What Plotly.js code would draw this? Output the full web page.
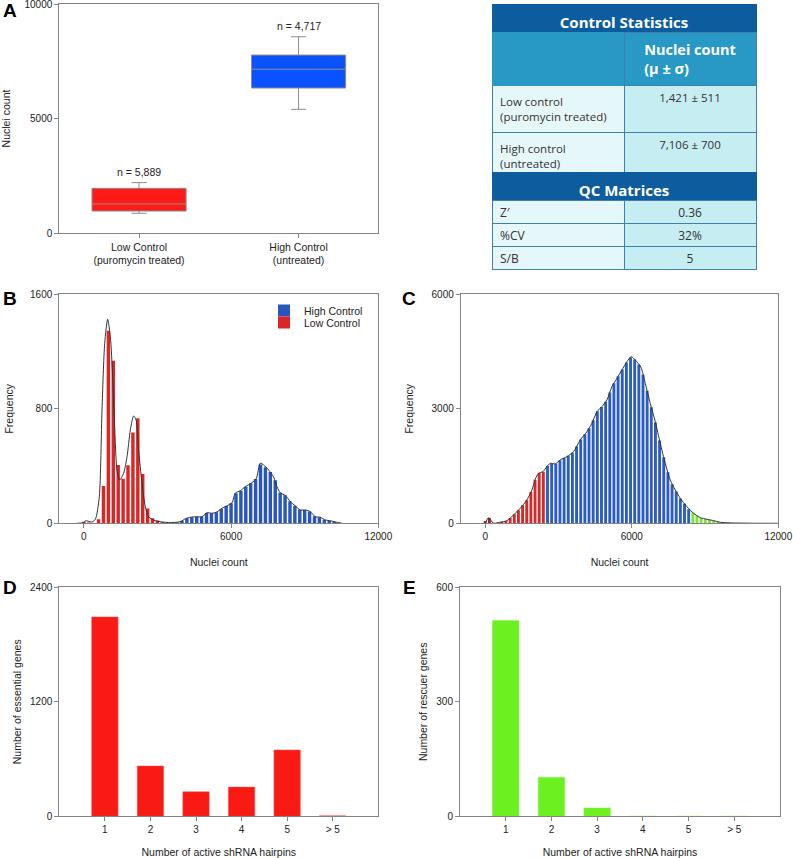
<!DOCTYPE html>
<html><head><meta charset="utf-8">
<script src="https://cdn.plot.ly/plotly-3.0.1.min.js"></script>
<style>html,body{margin:0;padding:0;background:#fff}#chart{width:793px;height:858px}</style>
</head><body><div id="chart"></div>
<script>
// ---------- Panel A : box plot ----------
const boxCategories = ['Low Control<br>(puromycin treated)', 'High Control<br>(untreated)'];
const boxLowerFence = [860, 5400];
const boxQ1 = [960, 6330];
const boxMedian = [1270, 7150];
const boxQ3 = [1950, 7770];
const boxUpperFence = [2200, 8570];
const boxN = ['n = 5,889', 'n = 4,717'];

// ---------- Table ----------
const tableTitle1 = 'Control Statistics';
const tableHeader = ['', 'Nuclei count<br>(μ ± σ)'];
const controlNames = ['Low control<br>(puromycin treated)', 'High control<br>(untreated)'];
const controlStats = ['1,421 ± 511', '7,106 ± 700'];
const tableTitle2 = 'QC Matrices';
const qcNames = ['Z′', '%CV', 'S/B'];
const qcValues = ['0.36', '32%', '5'];

// ---------- Panel B : control histograms ----------
const lowBins = [0, 200, 400, 600, 800, 1000, 1200, 1400, 1600, 1800, 2000, 2200, 2400, 2600, 2800, 3000, 3200];
const lowFreq = [10, 5, 0, 28, 260, 1345, 1135, 407, 312, 405, 634, 734, 345, 103, 35, 20, 8];
const highBins = [3600, 3800, 4000, 4200, 4400, 4600, 4800, 5000, 5200, 5400, 5600, 5800, 6000, 6200, 6400, 6600, 6800, 7000, 7200, 7400, 7600, 7800, 8000, 8200, 8400, 8600, 8800, 9000, 9200, 9400, 9600, 9800, 10000, 10200, 10400];
const highFreq = [3, 6, 18, 35, 43, 46, 46, 72, 70, 78, 100, 120, 140, 210, 228, 256, 280, 310, 410, 392, 358, 300, 214, 196, 154, 122, 94, 93, 82, 50, 43, 25, 18, 10, 4];
const curveBx = [-300, 0, 60, 330, 470, 630, 740, 850, 970, 1080, 1175, 1255, 1350, 1460, 1620, 1760, 1895, 2030, 2130, 2230, 2370, 2505, 2640, 2910, 3460, 3930, 4140, 4340, 4610, 4820, 5020, 5220, 5430, 5630, 5840, 6040, 6170, 6380, 6580, 6850, 7030, 7190, 7330, 7530, 7740, 7870, 8010, 8210, 8415, 8620, 8820, 9030, 9230, 9430, 9640, 9840, 10045, 10250, 10520];
const curveBy = [0, 5, 18, 9, 28, 186, 792, 1258, 1425, 1304, 1024, 675, 372, 302, 349, 465, 652, 750, 722, 512, 279, 116, 46, 18, 5, 11, 32, 42, 46, 46, 74, 70, 80, 105, 123, 144, 210, 228, 256, 284, 314, 420, 407, 372, 321, 256, 212, 195, 151, 121, 93, 93, 81, 46, 42, 23, 18, 9, 0];

// ---------- Panel C : screen histogram ----------
const cDarkBins = [0, 170, 340];
const cDarkFreq = [60, 140, 12];
const cRedBins = [510, 680, 850, 1020, 1190, 1360, 1530, 1700, 1870, 2040, 2210, 2380];
const cRedFreq = [15, 35, 60, 140, 235, 345, 470, 605, 820, 1140, 1320, 1350];
const cBlueBins = [2550, 2720, 2890, 3060, 3230, 3400, 3570, 3740, 3910, 4080, 4250, 4420, 4590, 4760, 4930, 5100, 5270, 5440, 5610, 5780, 5950, 6120, 6290, 6460, 6630, 6800, 6970, 7140, 7310, 7480, 7650, 7820, 7990, 8160, 8330];
const cBlueFreq = [1500, 1570, 1560, 1655, 1710, 1770, 1850, 2010, 2195, 2330, 2490, 2700, 2935, 3045, 3185, 3430, 3670, 3850, 4030, 4210, 4345, 4290, 4160, 3890, 3470, 3040, 2640, 2170, 1730, 1340, 1020, 830, 650, 510, 370];
const cGreenBins = [8500, 8670, 8840, 9010, 9180, 9350, 9520, 9690, 9860, 10030, 10200];
const cGreenFreq = [280, 200, 142, 115, 92, 70, 42, 24, 15, 10, 6];
const curveCx = [0, 135, 340, 614, 887, 1160, 1433, 1706, 1911, 2048, 2183, 2363, 2527, 2662, 2867, 3071, 3344, 3617, 3890, 4164, 4369, 4573, 4778, 4983, 5187, 5392, 5597, 5802, 5978, 6142, 6376, 6552, 6757, 6962, 7166, 7371, 7576, 7781, 7985, 8259, 8532, 8805, 9078, 9351, 9624, 10170, 11000, 12000];
const curveCy = [0, 147, 0, 30, 70, 218, 393, 611, 873, 1152, 1310, 1354, 1485, 1572, 1555, 1660, 1747, 1878, 2183, 2401, 2620, 2925, 3056, 3231, 3580, 3798, 4016, 4234, 4365, 4278, 4087, 3667, 3144, 2663, 2096, 1572, 1135, 873, 655, 436, 262, 148, 105, 70, 26, 9, 2, 0];

// ---------- Panels D, E ----------
const hairpinCats = ['1', '2', '3', '4', '5', '> 5'];
const essentialGenes = [2090, 527, 258, 307, 695, 5];
const rescuerGenes = [513, 102, 22, 0, 0, 0];

// ---------- styles ----------
const FONT = 'Liberation Sans, Arial, sans-serif';
const TFONT = 'Open Sans, Noto Sans, sans-serif';
const darkBlue = '#0d5c9e', midBlue = '#2898c4', cellL = '#e6f7fa', cellR = '#c6edf2', tLine = '#3f7fae';
const W = 793, H = 858;
const px = v => v / W, py = v => 1 - v / H;

const axBase = {showline: true, mirror: true, linecolor: '#858585', linewidth: 1, ticks: 'outside', ticklen: 4,
  tickcolor: '#858585', showgrid: false, zeroline: false, ticklabeloverflow: 'allow',
  tickfont: {size: 10, color: '#222', family: FONT}, fixedrange: true};
const ttl = (t, s) => ({text: t, font: {size: 10.5, color: '#222', family: FONT}, standoff: s});

const data = [];
// A boxes
const boxColors = ['#ff1a1a', '#0a52ff'];
for (let i = 0; i < 2; i++) {
  data.push({type: 'box', x: [boxCategories[i]], q1: [boxQ1[i]], median: [boxMedian[i]], q3: [boxQ3[i]],
    lowerfence: [boxLowerFence[i]], upperfence: [boxUpperFence[i]], fillcolor: boxColors[i],
    line: {color: '#8c8c8c', width: 1}, width: 0.59, whiskerwidth: 0.16, xaxis: 'x', yaxis: 'y',
    showlegend: false, hoverinfo: 'skip'});
}
// B
data.push({type: 'bar', x: highBins, y: highFreq, width: 140, marker: {color: '#2856be', line: {width: 0}}, name: 'High Control', legend: 'legend', xaxis: 'x2', yaxis: 'y2'});
data.push({type: 'bar', x: lowBins, y: lowFreq, width: 140, marker: {color: '#dc2626', line: {width: 0}}, name: 'Low Control', legend: 'legend2', xaxis: 'x2', yaxis: 'y2'});
data.push({type: 'scatter', mode: 'lines', x: curveBx, y: curveBy, line: {color: '#333', width: 1, shape: 'spline', smoothing: 0.7}, showlegend: false, xaxis: 'x2', yaxis: 'y2', hoverinfo: 'skip'});
// C
const cSeries = [[cDarkBins, cDarkFreq, '#a82424'], [cRedBins, cRedFreq, '#d42a2a'], [cBlueBins, cBlueFreq, '#2a5cc4'], [cGreenBins, cGreenFreq, '#7ee23c']];
cSeries.forEach(s => data.push({type: 'bar', x: s[0], y: s[1], width: 118, marker: {color: s[2], line: {width: 0}}, showlegend: false, xaxis: 'x3', yaxis: 'y3'}));
data.push({type: 'scatter', mode: 'lines', x: curveCx, y: curveCy, line: {color: '#333', width: 1, shape: 'spline', smoothing: 0.7}, showlegend: false, xaxis: 'x3', yaxis: 'y3', hoverinfo: 'skip'});
// D, E
data.push({type: 'bar', x: hairpinCats, y: essentialGenes, width: 0.58, marker: {color: '#fa1a14', line: {color: '#f06060', width: 0.5}}, showlegend: false, xaxis: 'x4', yaxis: 'y4'});
data.push({type: 'bar', x: hairpinCats, y: rescuerGenes, width: 0.58, marker: {color: '#6cf020', line: {color: '#90f060', width: 0.5}}, showlegend: false, xaxis: 'x5', yaxis: 'y5'});

// Tables
const tx = [px(492), px(756)];
const titleFont = {family: TFONT, size: 15, color: '#fff'};
const bodyFont = {family: TFONT, size: 12, color: '#333'};
const bodyFont2 = {family: TFONT, size: 11.5, color: '#333'};
data.push({type: 'table', domain: {x: tx, y: [py(60), py(4)]}, columnwidth: [1],
  header: {values: ['<b>' + tableTitle1 + '</b>'], height: 28, align: 'center', fill: {color: darkBlue}, line: {color: darkBlue, width: 1}, font: titleFont},
  cells: {values: [['']], height: 20, fill: {color: midBlue}, line: {color: midBlue, width: 1}, font: bodyFont}});
data.push({type: 'table', domain: {x: tx, y: [py(180), py(32)]}, columnwidth: [1, 1],
  header: {values: [tableHeader[0], '<b>' + tableHeader[1].replace('<br>', '</b><br><b>') + '</b>'], height: 46, align: ['left', 'center'],
    fill: {color: midBlue}, line: {color: [midBlue, tLine], width: 1}, font: {family: TFONT, size: 14.5, color: '#fff'}},
  cells: {values: [controlNames, controlStats], height: 47, align: ['left', 'center'], fill: {color: [cellL, cellR]},
    line: {color: tLine, width: 1}, font: bodyFont2}});
data.push({type: 'table', domain: {x: tx, y: [py(226), py(172)]}, columnwidth: [1],
  header: {values: ['<b>' + tableTitle2 + '</b>'], height: 28, align: 'center', fill: {color: darkBlue}, line: {color: darkBlue, width: 1}, font: titleFont},
  cells: {values: [['']], height: 20, fill: {color: cellL}, line: {color: cellL, width: 1}, font: bodyFont}});
data.push({type: 'table', domain: {x: tx, y: [py(276), py(200)]}, columnwidth: [1, 1],
  header: {values: [qcNames[0], qcValues[0]], height: 23, align: ['left', 'center'], fill: {color: [cellL, cellR]},
    line: {color: tLine, width: 1}, font: bodyFont},
  cells: {values: [qcNames.slice(1), qcValues.slice(1)], height: 23, align: ['left', 'center'], fill: {color: [cellL, cellR]},
    line: {color: tLine, width: 1}, font: bodyFont}});

const letter = (t, x, y) => ({text: '<b>' + t + '</b>', xref: 'paper', yref: 'paper', x: px(x), y: py(y), xanchor: 'center', yanchor: 'middle', showarrow: false, font: {size: 19, color: '#000', family: FONT}});
const legStyle = (y) => ({x: px(264), y: py(y), xanchor: 'left', yanchor: 'top', bgcolor: 'rgba(0,0,0,0)', borderwidth: 0, font: {size: 10.5, family: FONT, color: '#222'}});

const layout = {
  width: W, height: H, margin: {l: 0, r: 0, t: 0, b: 0}, paper_bgcolor: '#fff', plot_bgcolor: '#fff',
  font: {family: FONT, color: '#222'}, boxmode: 'overlay', barmode: 'overlay', hovermode: false,
  showlegend: true,
  legend: legStyle(296), legend2: legStyle(308),
  xaxis: {...axBase, domain: [px(59.3), px(378.3)], anchor: 'y', type: 'category', range: [-0.5, 1.5], tickfont: {size: 10.5, color: '#222', family: FONT}},
  yaxis: {...axBase, domain: [py(233), py(4)], anchor: 'x', range: [0, 10000], tickvals: [0, 5000, 10000], tickformat: 'd', title: ttl('Nuclei count', 18)},
  xaxis2: {...axBase, domain: [px(59.3), px(378.3)], anchor: 'y2', range: [-1000, 12000], tickvals: [0, 6000, 12000], tickformat: 'd', title: ttl('Nuclei count', 17)},
  yaxis2: {...axBase, domain: [py(523.3), py(294.3)], anchor: 'x2', range: [0, 1600], tickvals: [0, 800, 1600], tickformat: 'd', title: ttl('Frequency', 14)},
  xaxis3: {...axBase, domain: [px(460.8), px(778.3)], anchor: 'y3', range: [-1000, 12000], tickvals: [0, 6000, 12000], tickformat: 'd', title: ttl('Nuclei count', 17)},
  yaxis3: {...axBase, domain: [py(523.3), py(294.3)], anchor: 'x3', range: [0, 6000], tickvals: [0, 3000, 6000], tickformat: 'd', title: ttl('Frequency', 15)},
  xaxis4: {...axBase, domain: [px(59.3), px(378.3)], anchor: 'y4', type: 'category', range: [-1, 6], title: ttl('Number of active shRNA hairpins', 15)},
  yaxis4: {...axBase, domain: [py(816.3), py(587.3)], anchor: 'x4', range: [0, 2400], tickvals: [0, 1200, 2400], tickformat: 'd', title: ttl('Number of essential genes', 6)},
  xaxis5: {...axBase, domain: [px(460), px(780)], anchor: 'y5', type: 'category', range: [-1, 6], title: ttl('Number of active shRNA hairpins', 15)},
  yaxis5: {...axBase, domain: [py(816.3), py(587.3)], anchor: 'x5', range: [0, 600], tickvals: [0, 300, 600], tickformat: 'd', title: ttl('Number of rescuer genes', 6)},
  annotations: [
    {text: boxN[0], x: 0, y: boxUpperFence[0], xref: 'x', yref: 'y', yanchor: 'bottom', yshift: 3, showarrow: false, font: {size: 10.5, family: FONT, color: '#222'}},
    {text: boxN[1], x: 1, y: boxUpperFence[1], xref: 'x', yref: 'y', yanchor: 'bottom', yshift: 3, showarrow: false, font: {size: 10.5, family: FONT, color: '#222'}},
    letter('A', 10, 10), letter('B', 10, 298), letter('C', 409, 298), letter('D', 10, 587), letter('E', 409, 587)
  ]
};

Plotly.newPlot('chart', data, layout, {staticPlot: true, displayModeBar: false});
</script>
</body></html>
